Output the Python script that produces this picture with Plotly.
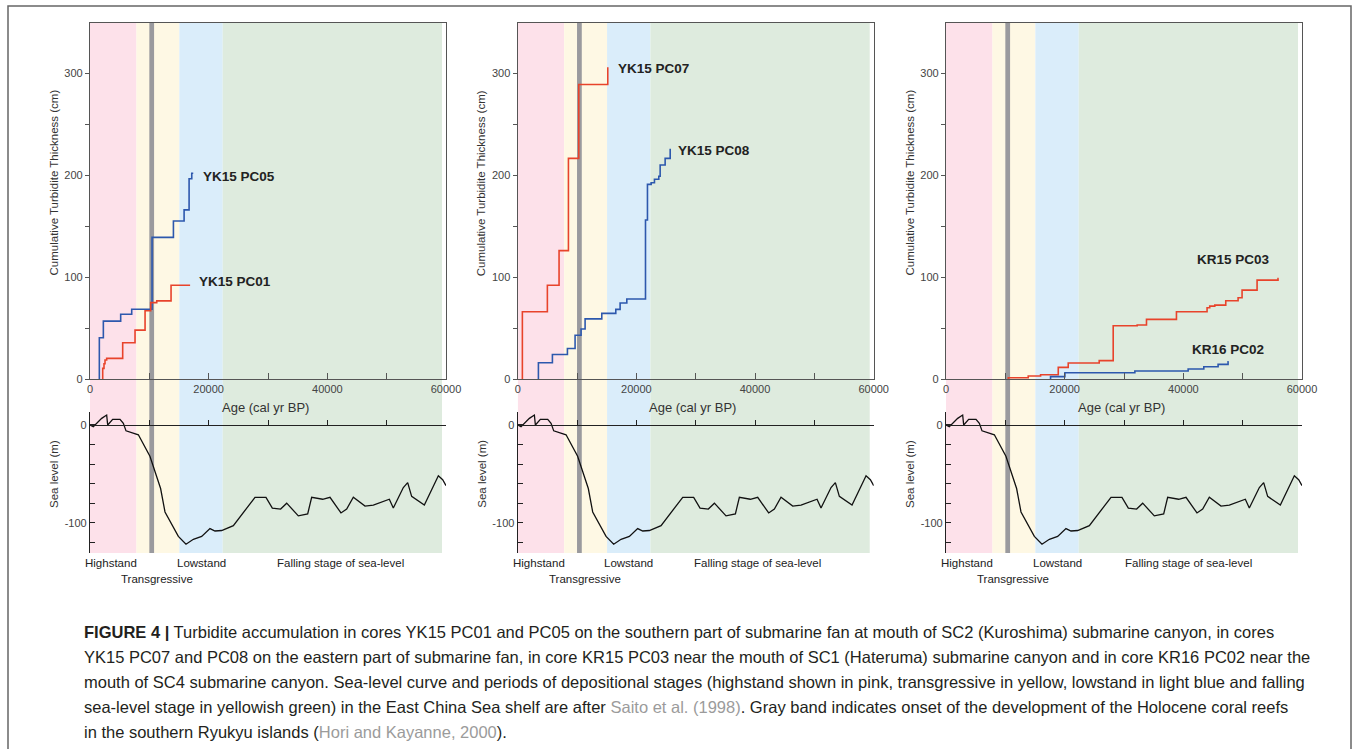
import plotly.graph_objects as go

# ---------------- data ----------------
# depositional stages (cal yr BP)
stage_names = ["Highstand", "Transgressive", "Lowstand", "Falling stage of sea-level"]
stage_start = [0, 7830, 15060, 22370]
stage_end = [7830, 15060, 22370, 59330]
stage_colors = ["#fde1ea", "#fef8e4", "#daedfa", "#deebde"]
coral_start, coral_end = 10000, 10800

# sea level curve (after Saito et al., 1998)
sl_age = [0, 560, 1970, 2810, 2980, 3820, 5060, 5620, 6070, 8150, 10100, 11900, 12640,
          14890, 16180, 17420, 18820, 20220, 21070, 22190, 24160, 27810, 29660, 30730,
          32130, 33150, 35110, 36690, 37360, 39210, 40450, 42300, 43260, 44380, 46350,
          47750, 50450, 51120, 52810, 53540, 54210, 56350, 58710, 59440, 60000]
sl_level = [0, -1.7, 6.8, 10.2, 0, 5.8, 5.8, 1.7, -6, -10, -32, -65, -89,
            -114, -122, -117, -114, -106, -108.5, -108, -103, -74, -74, -85,
            -86, -80, -93, -91, -74, -76, -74, -90, -86, -74, -83,
            -82, -76, -85, -64, -59, -73, -82, -52, -56, -62]

# cumulative turbidite thickness: age of each turbidite, cumulative thickness after it, last age of record
pc05_age = [1575, 2250, 5170, 7030, 10460, 14060, 15860, 16700, 17150]
pc05_cum = [40.5, 56.8, 63.6, 68.5, 139, 155, 166, 196.5, 202]
pc05_end = 17400

pc01_age = [2140, 2360, 2530, 2810, 5510, 7590, 9280, 10230, 11250, 13660]
pc01_cum = [10.4, 15, 18.6, 20.2, 35.6, 48, 67, 75, 76.7, 92]
pc01_end = 16870

pc07_age = [787, 5000, 6970, 8550, 10290, 15180]
pc07_cum = [66, 92, 126, 216.5, 289, 306]
pc07_end = 15180

pc08_age = [3490, 5850, 8380, 9670, 10680, 11360, 14170, 16530, 17260, 18390, 21540,
            21870, 22490, 23050, 23780, 24010, 24850, 25700]
pc08_cum = [16, 24, 30, 43, 49, 59, 64.4, 68.3, 74.6, 78.5, 156,
            191, 192.6, 196, 199, 210, 216.5, 226]
pc08_end = 25700

kr15_age = [10500, 13860, 15940, 18920, 20600, 25820, 28180, 32220, 33790, 38840, 44000,
            44450, 45300, 47150, 49230, 49900, 52430, 55960]
kr15_cum = [1.3, 3, 4.2, 11.4, 15.7, 18, 52.2, 53, 58.5, 66, 70,
            71.5, 72.5, 76.8, 79.7, 87.2, 97, 98.7]
kr15_end = 56070

kr16_age = [17620, 20040, 31830, 40810, 43450, 45860, 47540]
kr16_cum = [2.3, 6.2, 7.8, 9.8, 12, 14.4, 17]
kr16_end = 47650

x_ticks = [0, 10000, 20000, 30000, 40000, 50000, 60000]
x_ticktext = ["0", "", "20000", "", "40000", "", "60000"]
y_ticks = [0, 50, 100, 150, 200, 250, 300]
y_ticktext = ["0", "", "100", "", "200", "", "300"]
sl_ticks = [0, -20, -40, -60, -80, -100, -120]
sl_ticktext = ["0", "", "", "", "", "-100", ""]

# ---------------- layout helpers ----------------
W, H = 1354, 749
FONT = "Liberation Sans, Arial, Helvetica, sans-serif"
RED = "#e8432b"
BLUE = "#2d58ad"


def px(p):
    return p / W


def py(p):
    return 1 - p / H


panel_x0 = [90, 517.7, 946]
PW = 356
TOP_Y0, TOP_Y1 = 23, 379
SL_Y0, SL_Y1 = 411.7, 553
TOP_RANGE = [0, 349.4]
SL_RANGE = [-131, 13.6]

panels = [
    [("YK15 PC05", pc05_age, pc05_cum, pc05_end, BLUE, 18670, 199),
     ("YK15 PC01", pc01_age, pc01_cum, pc01_end, RED, 17990, 96)],
    [("YK15 PC07", pc07_age, pc07_cum, pc07_end, RED, 16530, 305),
     ("YK15 PC08", pc08_age, pc08_cum, pc08_end, BLUE, 26650, 224)],
    [("KR15 PC03", kr15_age, kr15_cum, kr15_end, RED, 41930, 117.5),
     ("KR16 PC02", kr16_age, kr16_cum, kr16_end, BLUE, 41140, 28.5)],
]
falling_offset = [250, 240, 242]

fig = go.Figure()
layout = dict(
    width=W, height=H, margin=dict(l=0, r=0, t=0, b=0, pad=0), autosize=False,
    paper_bgcolor="white", plot_bgcolor="rgba(0,0,0,0)",
    showlegend=False, font=dict(family=FONT, color="#333"),
)
shapes = []
annotations = []

# figure border (open at the bottom, runs off the page)
shapes.append(dict(type="path", xref="paper", yref="paper",
                   path=f"M {px(8)} 0 L {px(8)} {py(6)} L {px(1351)} {py(6)} L {px(1351)} 0",
                   line=dict(color="#666", width=1.5), layer="above"))

for i, (x0, series) in enumerate(zip(panel_x0, panels)):
    top_idx = 2 * i + 1
    sl_idx = 2 * i + 2
    tx = "x" if top_idx == 1 else f"x{top_idx}"
    ty = "y" if top_idx == 1 else f"y{top_idx}"
    sx, sy = f"x{sl_idx}", f"y{sl_idx}"
    xdom = [px(x0), px(x0 + PW)]

    # top panel axes
    layout["xaxis" if top_idx == 1 else f"xaxis{top_idx}"] = dict(
        domain=xdom, anchor=ty, range=[0, 60000], showgrid=False, zeroline=False,
        automargin=False,
        showline=True, linecolor="#555", linewidth=1.3, mirror=True,
        ticks="inside", ticklen=6, tickcolor="#555", tickwidth=1.2,
        tickvals=x_ticks, ticktext=x_ticktext,
        tickfont=dict(size=11, color="#444"))
    layout["yaxis" if top_idx == 1 else f"yaxis{top_idx}"] = dict(
        domain=[py(TOP_Y1), py(TOP_Y0)], anchor=tx, range=TOP_RANGE,
        automargin=False,
        showgrid=False, zeroline=False, showline=True, linecolor="#555", linewidth=1.3,
        mirror=True, ticks="outside", ticklen=4, tickcolor="#555", tickwidth=1.2,
        tickvals=y_ticks, ticktext=y_ticktext, tickfont=dict(size=11, color="#444"))

    # sea-level axes
    sl_dom = [py(SL_Y1), py(SL_Y0)]
    zero_pos = sl_dom[0] + (0 - SL_RANGE[0]) / (SL_RANGE[1] - SL_RANGE[0]) * (sl_dom[1] - sl_dom[0])
    layout[f"xaxis{sl_idx}"] = dict(
        domain=xdom, anchor="free", position=zero_pos, range=[0, 60000],
        automargin=False,
        showgrid=False, zeroline=False, showline=True, linecolor="#222", linewidth=1.2,
        ticks="inside", ticklen=5, tickcolor="#222", tickwidth=1.2,
        tickvals=x_ticks, showticklabels=False)
    layout[f"yaxis{sl_idx}"] = dict(
        domain=sl_dom, anchor=sx, range=SL_RANGE, showgrid=False, zeroline=False,
        automargin=False,
        showline=True, linecolor="#222", linewidth=1.2,
        ticks="inside", ticklen=5, tickcolor="#222", tickwidth=1.2,
        tickvals=sl_ticks, ticktext=sl_ticktext, tickfont=dict(size=11, color="#444"))

    # stage bands spanning both panels
    for s0, s1, c in zip(stage_start, stage_end, stage_colors):
        shapes.append(dict(type="rect", xref=tx, yref="paper", x0=s0, x1=s1,
                           y0=py(SL_Y1), y1=py(TOP_Y0), fillcolor=c,
                           line=dict(width=0), layer="below"))
    shapes.append(dict(type="rect", xref=tx, yref="paper", x0=coral_start, x1=coral_end,
                       y0=py(SL_Y1), y1=py(TOP_Y0), fillcolor="#9a9a9e",
                       line=dict(width=0), layer="below"))

    # turbidite curves
    for name, ages, cum, end, col, lx, ly in series:
        fig.add_trace(go.Scatter(x=list(ages) + [end], y=[0] + list(cum), mode="lines",
                                 line=dict(color=col, width=1.6, shape="vh"),
                                 xaxis=tx, yaxis=ty, name=name, cliponaxis=False))
        annotations.append(dict(xref=tx, yref=ty, x=lx, y=ly, text=f"<b>{name}</b>",
                                showarrow=False, xanchor="left", yanchor="middle",
                                font=dict(size=13.5, color="#222", family=FONT)))

    # sea level curve
    fig.add_trace(go.Scatter(x=sl_age, y=sl_level, mode="lines",
                             line=dict(color="#111", width=1.3),
                             xaxis=sx, yaxis=sy, name="Sea level"))

    # axis titles
    annotations.append(dict(xref="paper", yref="paper", x=px(x0 + PW / 2 - 3), y=py(407.5),
                            text="Age (cal yr BP)", showarrow=False,
                            xanchor="center", yanchor="middle",
                            font=dict(size=13, color="#333")))
    annotations.append(dict(xref="paper", yref="paper", x=px(x0 - 36.5), y=py(183),
                            text="Cumulative Turbidite Thickness (cm)", showarrow=False,
                            textangle=-90, xanchor="center", yanchor="middle",
                            font=dict(size=11.5, color="#333")))
    annotations.append(dict(xref="paper", yref="paper", x=px(x0 - 36), y=py(474),
                            text="Sea level (m)", showarrow=False,
                            textangle=-90, xanchor="center", yanchor="middle",
                            font=dict(size=11.5, color="#333")))

    # stage labels
    stage_label_pos = [(21, 563), (67, 579), (111, 563), (falling_offset[i], 563)]
    for name, (ox, oy) in zip(stage_names, stage_label_pos):
        annotations.append(dict(xref="paper", yref="paper", x=px(x0 + ox), y=py(oy),
                                text=name, showarrow=False, xanchor="center",
                                yanchor="middle", font=dict(size=11.5, color="#222")))

# caption
GRAY = "#9b9b9b"
caption_lines = [
    "<b>FIGURE 4 |</b> Turbidite accumulation in cores YK15 PC01 and PC05 on the southern part of submarine fan at mouth of SC2 (Kuroshima) submarine canyon, in cores",
    "YK15 PC07 and PC08 on the eastern part of submarine fan, in core KR15 PC03 near the mouth of SC1 (Hateruma) submarine canyon and in core KR16 PC02 near the",
    "mouth of SC4 submarine canyon. Sea-level curve and periods of depositional stages (highstand shown in pink, transgressive in yellow, lowstand in light blue and falling",
    f"sea-level stage in yellowish green) in the East China Sea shelf are after <span style='color:{GRAY}'>Saito et al. (1998)</span>. Gray band indicates onset of the development of the Holocene coral reefs",
    f"in the southern Ryukyu islands (<span style='color:{GRAY}'>Hori and Kayanne, 2000</span>).",
]
for k, line in enumerate(caption_lines):
    annotations.append(dict(xref="paper", yref="paper", x=px(82), y=py(632 + 25 * k),
                            text=line, showarrow=False, xanchor="left", yanchor="middle",
                            font=dict(size=16.5, color="#231f20", family=FONT)))

layout["shapes"] = shapes
layout["annotations"] = annotations
fig.update_layout(**layout)

post = ("document.documentElement.style.margin='0px';"
        "document.body.style.margin='0px';"
        "document.documentElement.style.overflow='hidden';"
        "document.body.style.overflow='hidden';")
fig.write_html("out.html", config={"displayModeBar": False}, post_script=post)
